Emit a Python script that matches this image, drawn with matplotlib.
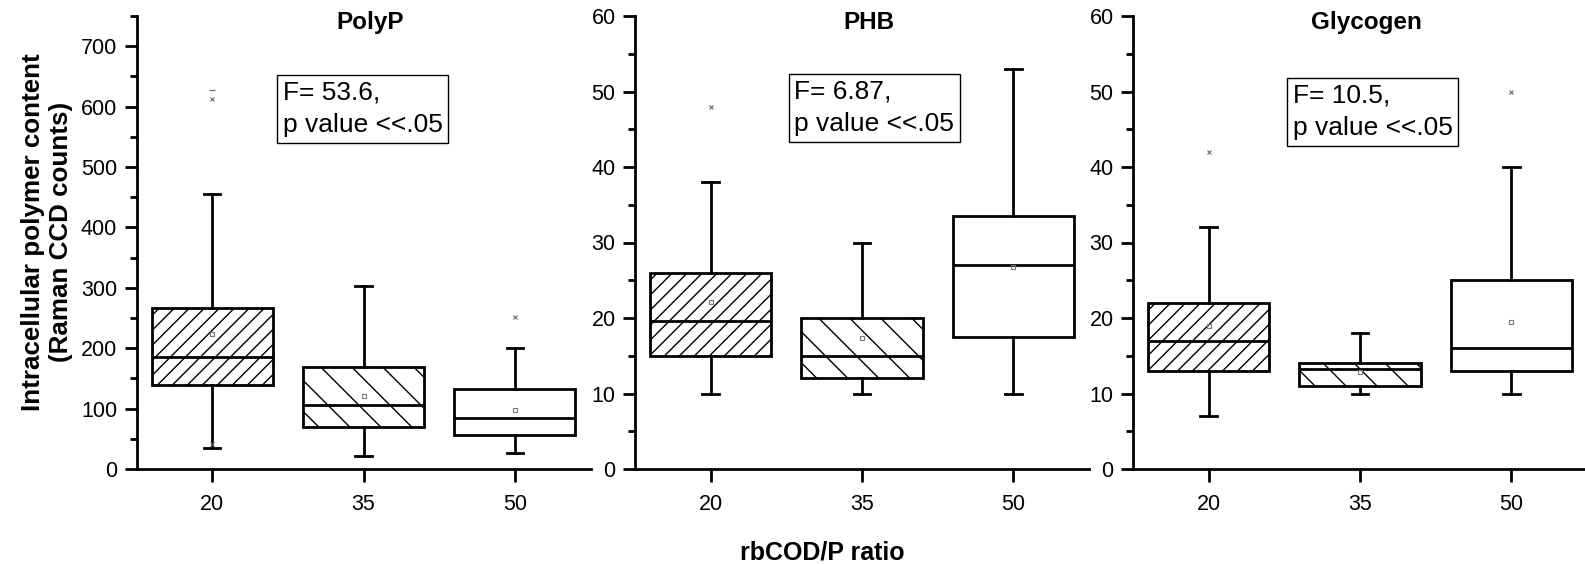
import matplotlib
matplotlib.use('Agg')
import numpy as np
import matplotlib.pyplot as plt
from matplotlib.lines import Line2D
from matplotlib.transforms import IdentityTransform

plt.rcParams['font.family'] = ['Liberation Sans', 'DejaVu Sans']

# data
categories = ['20', '35', '50']
titles = ['PolyP', 'PHB', 'Glycogen']
stats_text = ['F= 53.6,\np value <<.05', 'F= 6.87,\np value <<.05', 'F= 10.5,\np value <<.05']

polyp_q1 = [139, 70, 57]
polyp_q3 = [266, 169, 132]
polyp_med = [186, 106, 85]
polyp_lo = [35, 22, 26]
polyp_hi = [456, 303, 200]
polyp_mean = [223, 121, 97]
polyp_fliers = [[613, 41], [], [252]]
polyp_max = [627, None, None]

phb_q1 = [15, 12, 17.5]
phb_q3 = [26, 20, 33.5]
phb_med = [19.6, 15, 27]
phb_lo = [10, 10, 10]
phb_hi = [38, 30, 53]
phb_mean = [22.1, 17.4, 26.8]
phb_fliers = [[48], [], []]
phb_max = [None, None, None]

gly_q1 = [13, 11, 13]
gly_q3 = [22, 14, 25]
gly_med = [17, 13.2, 16]
gly_lo = [7, 10, 10]
gly_hi = [32, 18, 40]
gly_mean = [18.9, 12.9, 19.5]
gly_fliers = [[42], [], [50]]
gly_max = [None, None, None]

panels = [
    (polyp_q1, polyp_q3, polyp_med, polyp_lo, polyp_hi, polyp_mean, polyp_fliers, polyp_max, 750, 100),
    (phb_q1, phb_q3, phb_med, phb_lo, phb_hi, phb_mean, phb_fliers, phb_max, 60, 10),
    (gly_q1, gly_q3, gly_med, gly_lo, gly_hi, gly_mean, gly_fliers, gly_max, 60, 10),
]

# hatch spacing in pixels (horizontal) and direction per box
hatch_step = [15, 31, None]
hatch_dir = [1, -1, 0]

W, H = 1585, 564
fig = plt.figure(figsize=(W / 100, H / 100), dpi=100)
lefts = [136.5, 635, 1133]
ax_w = 454
ax_bottom = 1 - 469 / H
ax_h = (469 - 16) / H
text_pos = [(0.322, 0.857), (0.351, 0.859), (0.352, 0.850)]


def hatch_box(ax, box, step, sign):
    verts = ax.transData.transform(box.get_path().vertices)
    x0, y0 = verts.min(axis=0)
    x1, y1 = verts.max(axis=0)
    h = y1 - y0
    c = x0 - h + step * 0.5
    while c < x1:
        if sign > 0:
            xs, ys = [c, c + h], [y0, y1]
        else:
            xs, ys = [c, c + h], [y1, y0]
        ln = Line2D(xs, ys, transform=IdentityTransform(), lw=1.0, color='black')
        ln.set_clip_path(box)
        ax.add_line(ln)
        c += step


for i, (q1, q3, med, lo, hi, mean, fliers, mx, ymax, major) in enumerate(panels):
    ax = fig.add_axes([lefts[i] / W, ax_bottom, ax_w / W, ax_h])
    stats = []
    for j in range(3):
        stats.append(dict(q1=q1[j], q3=q3[j], med=med[j], whislo=lo[j], whishi=hi[j],
                          mean=mean[j], fliers=fliers[j], label=categories[j]))
    bp = ax.bxp(stats, positions=[1, 2, 3], widths=0.8, capwidths=0.11,
                patch_artist=True, showmeans=True,
                boxprops=dict(facecolor='white', edgecolor='black', linewidth=2),
                medianprops=dict(color='black', linewidth=2),
                whiskerprops=dict(color='black', linewidth=2),
                capprops=dict(color='black', linewidth=2),
                meanprops=dict(marker='s', markersize=3, markerfacecolor='none',
                               markeredgecolor='#777777', markeredgewidth=0.8),
                flierprops=dict(marker='x', markersize=3, markeredgecolor='#666666',
                                markeredgewidth=0.8))
    for j in range(3):
        if mx[j] is not None:
            ax.plot([j + 1], [mx[j]], marker='_', markersize=4, color='#666666', mew=0.8)

    ax.set_xlim(0.5, 3.5)
    ax.set_ylim(0, ymax)
    ax.set_yticks(np.arange(0, ymax + 1, major / 2), minor=True)
    if i == 0:
        ax.set_yticks(np.arange(0, 701, major))
    else:
        ax.set_yticks(np.arange(0, ymax + 1, major))
    ax.set_xticks([1, 2, 3])
    ax.set_xticklabels(categories)
    for s in ['top', 'right']:
        ax.spines[s].set_visible(False)
    for s in ['left', 'bottom']:
        ax.spines[s].set_linewidth(2)
    ax.tick_params(axis='y', which='major', length=9, width=2, labelsize=15.5, pad=5)
    ax.tick_params(axis='x', which='major', length=9, width=2, labelsize=15.5, pad=9)
    ax.tick_params(axis='y', which='minor', length=5, width=2)
    ax.tick_params(axis='x', which='minor', bottom=False)

    for j, box in enumerate(bp['boxes']):
        if hatch_step[j]:
            hatch_box(ax, box, hatch_step[j], hatch_dir[j])

    ax.text(0.515, 0.971, titles[i], transform=ax.transAxes, ha='center', va='baseline',
            fontsize=17.5, fontweight='bold')
    ax.text(text_pos[i][0], text_pos[i][1], stats_text[i], transform=ax.transAxes,
            ha='left', va='top', fontsize=19, linespacing=1.42,
            bbox=dict(boxstyle='square,pad=0.22', facecolor='white', edgecolor='black', linewidth=1))

fig.text(0.0297, 0.588, 'Intracellular polymer content\n(Raman CCD counts)', rotation=90,
         ha='center', va='center', multialignment='center', fontsize=18.7, fontweight='bold',
         linespacing=1.25)
fig.text(0.519, 0.021, 'rbCOD/P ratio', ha='center', va='center', fontsize=18, fontweight='bold')

fig.savefig('out.png', dpi=100)
